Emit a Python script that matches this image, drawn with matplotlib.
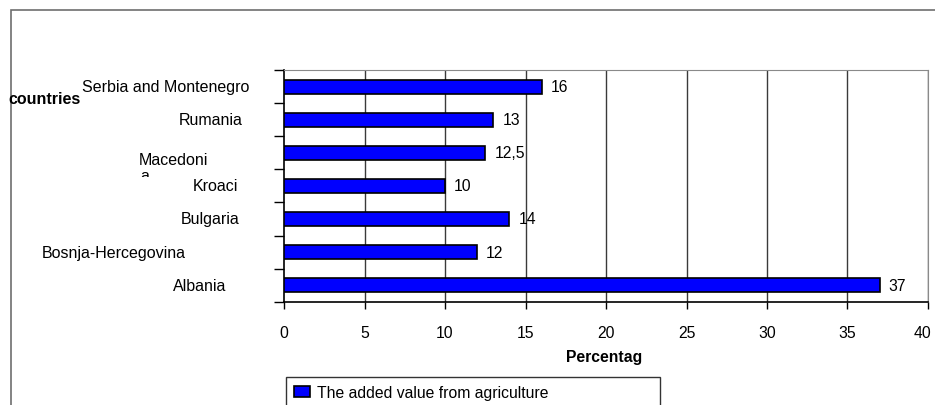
import matplotlib
matplotlib.use("Agg")
import matplotlib.pyplot as plt
from matplotlib.patches import Rectangle
from matplotlib.transforms import (blended_transform_factory, ScaledTranslation,
                                   Bbox, TransformedBbox)

plt.rcParams['font.family'] = ['Liberation Sans', 'DejaVu Sans']

# ---- data ----
countries = ["Albania", "Bosnja-Hercegovina", "Bulgaria", "Kroaci",
             "Macedonia", "Rumania", "Serbia and Montenegro"]
values = [37, 12, 14, 10, 12.5, 13, 16]
value_labels = ["37", "12", "14", "10", "12,5", "13", "16"]
x_ticks = [0, 5, 10, 15, 20, 25, 30, 35, 40]
series_name = "The added value from agriculture"
x_label = "Percentag"
y_label = "countries"

W, H = 935, 406
fig = plt.figure(figsize=(W / 100, H / 100), dpi=100)

# outer chart border (extends past right/bottom edges)
fig.patches.append(Rectangle((11 / W, -0.1), 1.2, 1 - 11 / H + 0.1,
                             transform=fig.transFigure, fill=False,
                             edgecolor='#6e6e6e', linewidth=1.2))

ax = fig.add_axes([284 / W, 1 - 302.7 / H, (928 - 284) / W, (302.7 - 71) / H])
ypos = list(range(len(countries)))
bars = ax.barh(ypos, values, height=0.42, color='#0000ff', edgecolor='black',
               linewidth=1.2, label=series_name, zorder=3)

ax.set_xlim(0, 40)
ax.set_ylim(-0.5, len(countries) - 0.5)
ax.set_xticks(x_ticks)
ax.set_xticklabels([str(t) for t in x_ticks], fontsize=11.3)
ax.tick_params(axis='x', direction='out', length=5, width=1, pad=12, color='black')
ax.set_yticks([i - 0.5 for i in range(len(countries) + 1)])
ax.set_yticklabels([])
ax.tick_params(axis='y', direction='out', length=7, width=1, color='black')

# shift last x tick label slightly left so it stays inside
last = ax.get_xticklabels()[-1]
last.set_transform(last.get_transform() + ScaledTranslation(-5 / 100, 0, fig.dpi_scale_trans))

for x in x_ticks[1:]:
    ax.axvline(x, color='#3a3a3a', linewidth=1, zorder=1)

for s in ['left', 'bottom']:
    ax.spines[s].set_color('black')
    ax.spines[s].set_linewidth(1.2)
ax.spines['top'].set_color('#8a8a8a')
ax.spines['right'].set_color('#8a8a8a')

# value labels
for y, v, lab in zip(ypos, values, value_labels):
    ax.annotate(lab, (v, y), xytext=(6.5, 0), textcoords='offset points',
                ha='left', va='center', fontsize=11.3)

# category labels (positioned like the original)
label_x_px = [200, 114, 210, 215, None, 211, 166]
trans = blended_transform_factory(fig.transFigure, ax.transData)
for y, name, px in zip(ypos, countries, label_x_px):
    if px is None:
        continue
    ax.text(px / W, y, name, transform=trans, ha='center', va='center',
            fontsize=11.5)
# Macedonia wrapped label (second line partly hidden, as in the original)
ax.text(139 / W, 1 - 165 / H, "Macedoni", transform=fig.transFigure,
        ha='left', va='baseline', fontsize=11.5)
t = ax.text(140 / W, 1 - 181.5 / H, "a", transform=fig.transFigure,
            ha='left', va='baseline', fontsize=11.5, clip_on=True)
t.set_clip_box(TransformedBbox(Bbox.from_extents(130 / W, 1 - 178 / H,
                                                 170 / W, 1 - 168 / H),
                               fig.transFigure))

fig.text(8 / W, 1 - 100 / H, y_label, ha='left', va='center',
         fontsize=11.5, fontweight='bold')
fig.text(604 / W, 1 - 358 / H, x_label, ha='center', va='center',
         fontsize=11.3, fontweight='bold')

leg = fig.legend(handles=[bars], labels=[series_name], loc='upper left',
                 bbox_to_anchor=(286 / W, 1 - 378 / H, (660 - 286) / W, 0),
                 mode='expand', fontsize=11.3, frameon=True, fancybox=False,
                 borderaxespad=0, handlelength=1.0, handleheight=0.65,
                 handletextpad=0.45, borderpad=0.5)
leg.get_frame().set_edgecolor('black')
leg.get_frame().set_linewidth(1.0)

fig.savefig("out.png", dpi=100)
